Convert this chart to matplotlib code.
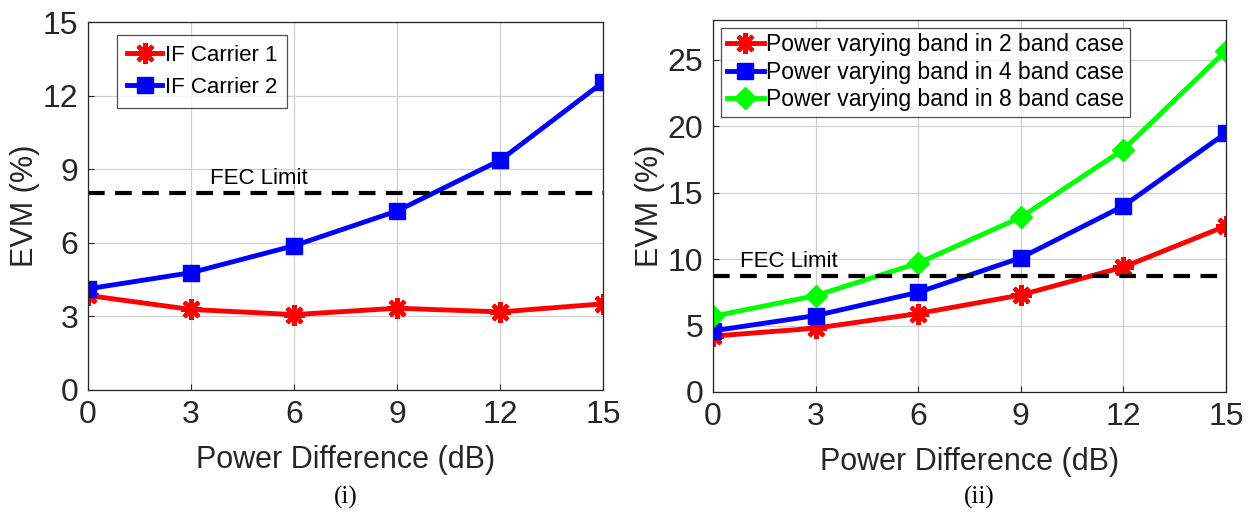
import matplotlib
matplotlib.use('Agg')
import matplotlib.pyplot as plt

# Data
powerDiff = [0, 3, 6, 9, 12, 15]

carrier1 = [3.85, 3.28, 3.07, 3.33, 3.18, 3.51]
carrier2 = [4.12, 4.78, 5.88, 7.30, 9.37, 12.56]
fecLeft = 8.05

band2 = [4.2, 4.8, 5.9, 7.3, 9.4, 12.5]
band4 = [4.6, 5.75, 7.5, 10.1, 14.0, 19.5]
band8 = [5.7, 7.25, 9.7, 13.15, 18.25, 25.7]
fecRight = 8.7

plt.rcParams['font.family'] = ['Liberation Sans', 'DejaVu Sans']

# MATLAB-like asterisk marker (8 spokes)
ASTERISK = (8, 2, 0)


def styleAxes(ax, yticks, ylim):
    ax.set_xlim(0, 15)
    ax.set_ylim(*ylim)
    ax.set_xticks(powerDiff)
    ax.set_yticks(yticks)
    ax.grid(True, color='#d0d0d0', linewidth=0.9)
    ax.set_axisbelow(True)
    ax.tick_params(direction='in', length=4, labelsize=23, colors='#262626', pad=7)
    for spine in ax.spines.values():
        spine.set_color('#262626')
        spine.set_linewidth(0.9)
    ax.set_xlabel('Power Difference (dB)', fontsize=22, color='#262626', labelpad=11)
    ax.set_ylabel('EVM (%)', fontsize=22, color='#262626', labelpad=2)


fig = plt.figure(figsize=(12.51, 5.15), dpi=100)

# Panel (i)
ax1 = fig.add_axes([0.0703, 0.243, 0.412, 0.714])
ax1.plot(powerDiff, carrier1, '-', marker=ASTERISK, color='#ff0000', lw=3.5, ms=15, mew=3,
         label='IF Carrier 1')
ax1.plot(powerDiff, carrier2, '-s', color='#0000ff', lw=3.5, ms=11, label='IF Carrier 2')
ax1.axhline(fecLeft, color='black', lw=3, dashes=(4, 2.5))
ax1.text(3.55, fecLeft + 0.15, 'FEC Limit', fontsize=16, color='black', va='bottom')
styleAxes(ax1, [0, 3, 6, 9, 12, 15], (0, 15))
leg1 = ax1.legend(loc='upper left', bbox_to_anchor=(0.056, 0.965), fontsize=16, frameon=True,
                  fancybox=False, edgecolor='#262626', handlelength=1.6, handletextpad=0.1,
                  borderpad=0.45, labelspacing=0.5, borderaxespad=0)
leg1.get_frame().set_linewidth(0.9)
fig.text(0.2765, 0.022, '(i)', fontsize=18, family='Liberation Serif', ha='center')

# Panel (ii)
ax2 = fig.add_axes([0.570, 0.239, 0.410, 0.722])
ax2.plot(powerDiff, band2, '-', marker=ASTERISK, color='#ff0000', lw=3.5, ms=15, mew=3,
         label='Power varying band in 2 band case')
ax2.plot(powerDiff, band4, '-s', color='#0000ff', lw=3.5, ms=11,
         label='Power varying band in 4 band case')
ax2.plot(powerDiff, band8, '-D', color='#00ff00', lw=3.5, ms=11,
         label='Power varying band in 8 band case')
ax2.axhline(fecRight, color='black', lw=3, dashes=(4, 2.5))
ax2.text(0.8, fecRight + 0.3, 'FEC Limit', fontsize=16, color='black', va='bottom')
styleAxes(ax2, [0, 5, 10, 15, 20, 25], (0, 28))
leg2 = ax2.legend(loc='upper left', bbox_to_anchor=(0.016, 0.98), fontsize=16.5, frameon=True,
                  fancybox=False, edgecolor='#262626', handlelength=1.6, handletextpad=0.1,
                  borderpad=0.25, labelspacing=0.2, borderaxespad=0)
leg2.get_frame().set_linewidth(0.9)
fig.text(0.7825, 0.022, '(ii)', fontsize=18, family='Liberation Serif', ha='center')

fig.savefig('out.png', dpi=100)
